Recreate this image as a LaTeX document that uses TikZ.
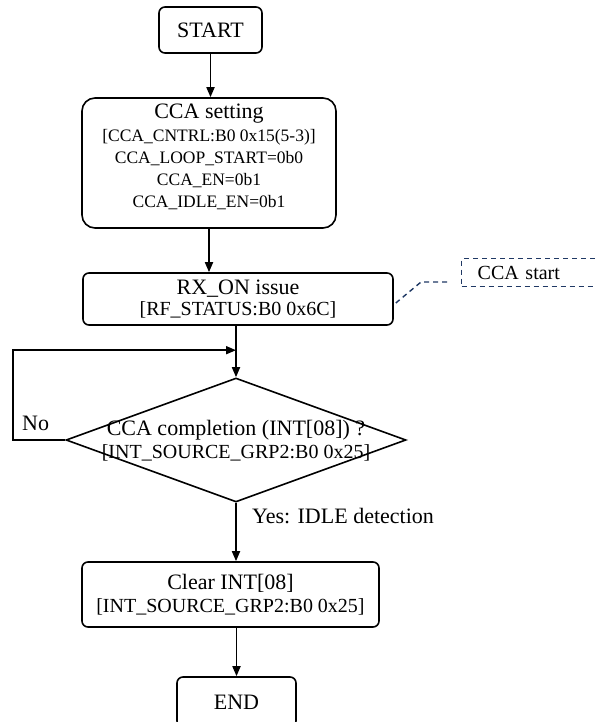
\documentclass[tikz,border=0pt]{standalone}
\usepackage{fontspec}
\setmainfont{Liberation Serif}
\usetikzlibrary{arrows.meta,shapes.geometric,calc}
\definecolor{navy}{HTML}{1F3864}
\newcommand{\ftitle}{\fontsize{22}{24}\selectfont}
\newcommand{\fsubt}{\fontsize{20}{22}\selectfont}
\newcommand{\fsmall}{\fontsize{17.5}{22}\selectfont}
\begin{document}
\begin{tikzpicture}[x=1pt,y=-1pt,
  box/.style={draw,line width=1.6pt,rounded corners=6pt,inner sep=0pt,align=center},
  flow/.style={line width=1.7pt,-{Triangle[length=10pt,width=8pt]}},
  lbl/.style={anchor=base west,inner sep=0pt,font=\ftitle},
  calloutline/.style={draw=navy,line width=1.4pt,dash pattern=on 5pt off 4pt}
]
\clip (0,0) rectangle (595,722);

\node[box,minimum width=103pt,minimum height=46pt,font=\ftitle] (start) at (210.5,30) {START};

\node[box,rounded corners=13pt,minimum width=254pt,minimum height=130pt,font=\fsmall] (cca) at (209,163)
  {{\ftitle CCA setting}\\[1pt][CCA\_CNTRL:B0 0x15(5-3)]\\CCA\_LOOP\_START=0b0\\CCA\_EN=0b1\\CCA\_IDLE\_EN=0b1\rule[-14pt]{0pt}{0pt}};

\node[box,minimum width=310pt,minimum height=52pt,font=\fontsize{20}{21}\selectfont] (rx) at (238,299)
  {{\ftitle RX\_ON issue}\\{}[RF\_STATUS:B0 0x6C]};

\node[diamond,draw,line width=1.6pt,inner sep=0pt,minimum width=340pt,minimum height=124pt] (dec) at (236,440) {};
\node[align=center,inner sep=0pt,font=\fontsize{20}{23}\selectfont] (dectext) at (236,441)
  {{\ftitle CCA completion (INT[08]) ?}\\{}[INT\_SOURCE\_GRP2:B0 0x25]};

\node[box,minimum width=297pt,minimum height=65pt,font=\fontsize{20}{23}\selectfont] (clr) at (230.5,594.5)
  {{\ftitle Clear INT[08]}\\{}[INT\_SOURCE\_GRP2:B0 0x25]};

\node[box,minimum width=119pt,minimum height=50pt,font=\ftitle] (end) at (236.5,702) {END};

% connectors
\draw[flow] (start.south) -- (start.south |- cca.north);
\draw[flow] (cca.south) -- (cca.south |- rx.north);
\draw[flow] (dec.north |- rx.south) -- (dec.north);
\draw[flow] (dec.south) -- (dec.south |- clr.north);
\draw[flow] (end.north |- clr.south) -- (end.north);

\coordinate (loopin) at ($(dec.north)+(0,-27)$);
\coordinate (loopcorner) at ($(dec.west)+(-52,0)$);
\draw[flow] (dec.west) -- (loopcorner) |- (loopin);

\node[lbl] (no) at (22,430) {No};
\node[lbl] (yes) at (252,523) {Yes: IDLE detection};

% callout
\node[calloutline,anchor=north west,minimum height=28pt,text width=160pt,inner xsep=16pt,inner ysep=0pt,align=left,font=\fsubt] (cs) at (461,258) {CCA start};
\coordinate (k1) at (421,282);
\coordinate (k2) at (448,282);
\draw[calloutline] ($(rx.east)+(2,4)$) -- (k1) -- (k2);
\end{tikzpicture}
\end{document}
